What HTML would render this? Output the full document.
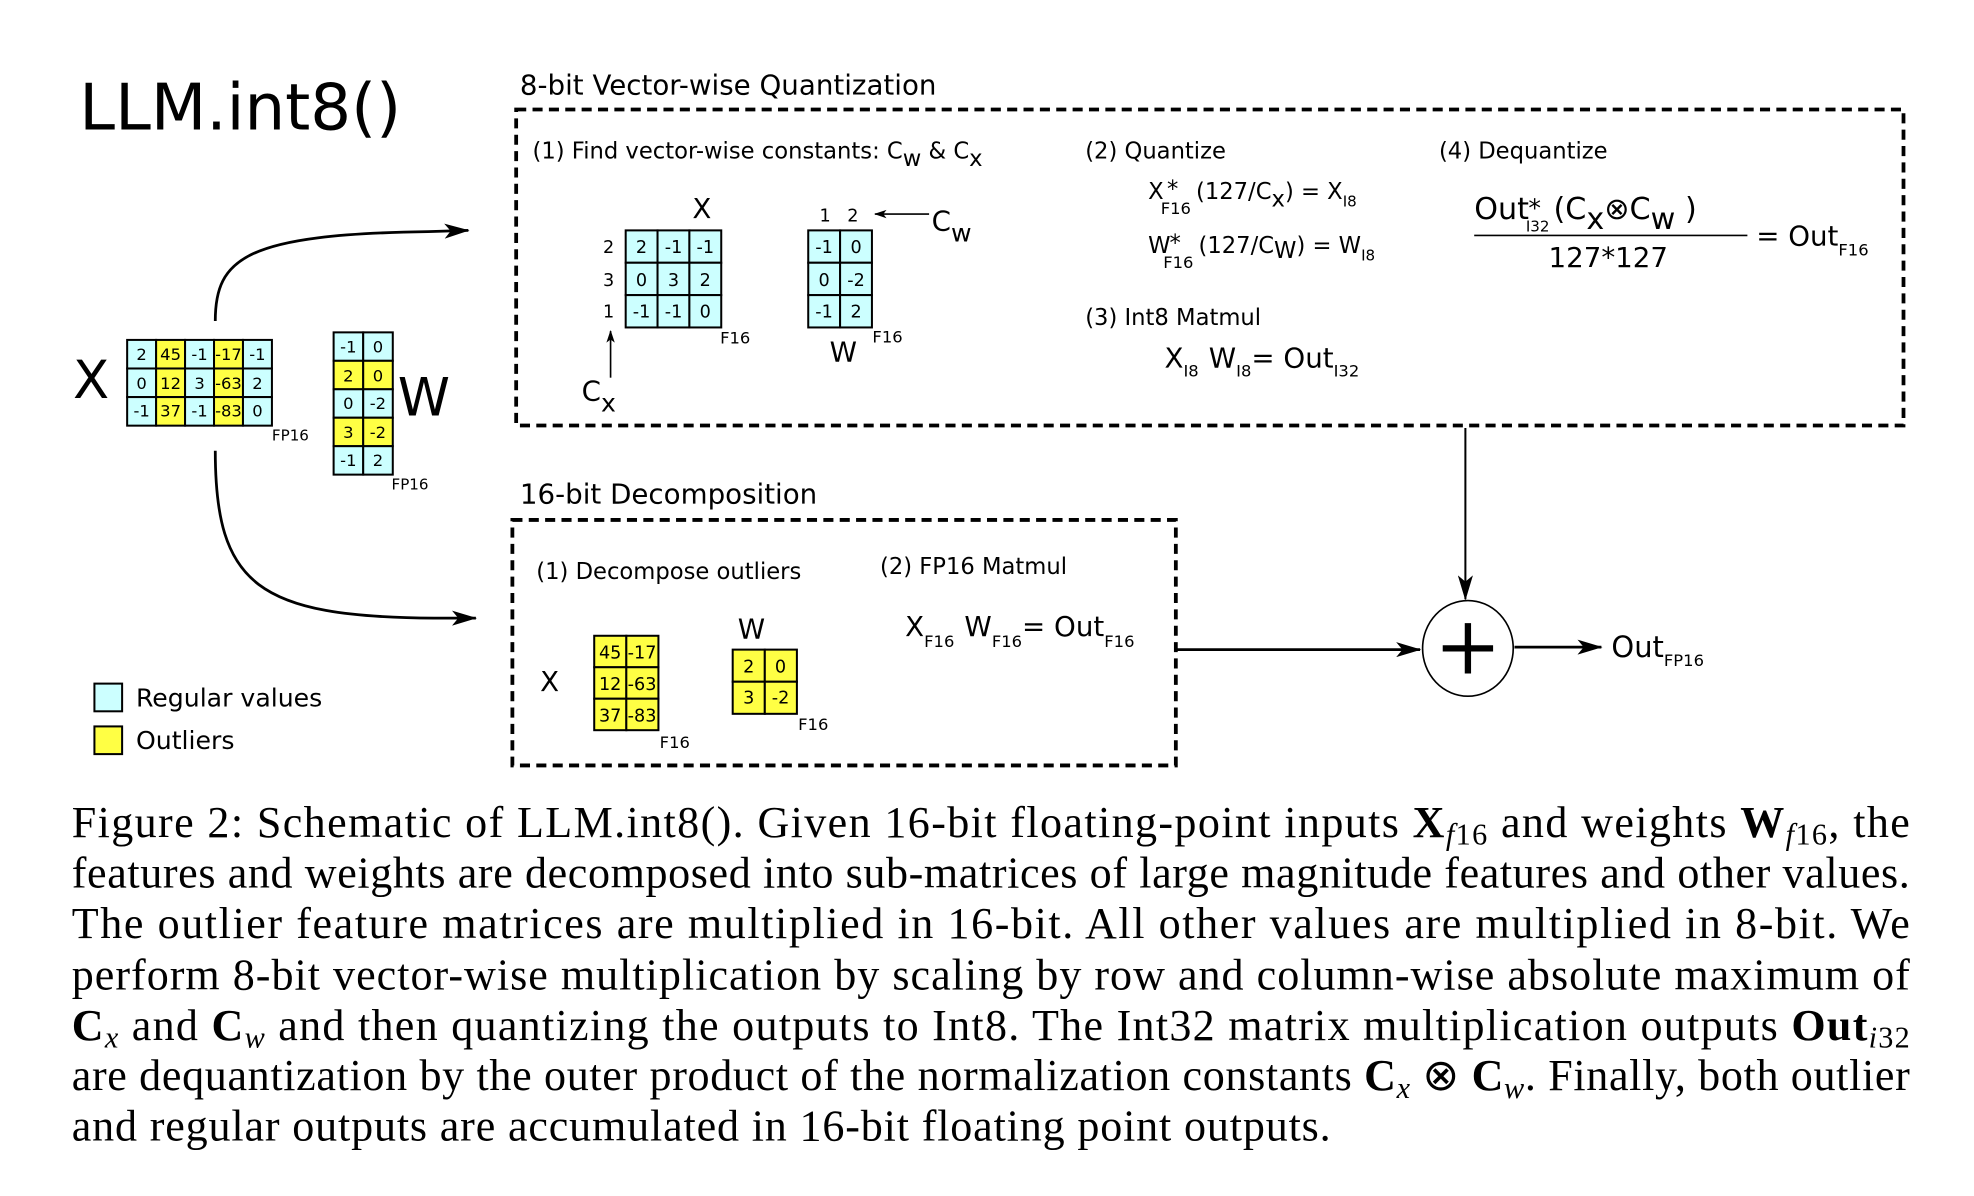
<!DOCTYPE html>
<html><head><meta charset="utf-8"><style>
html,body{margin:0;padding:0;background:#fff;}
svg{display:block}
.s{font-family:"DejaVu Sans",sans-serif;fill:#000}
.c{font-family:"Liberation Serif",serif;fill:#000;font-size:35px}
.cy{fill:#ccffff;stroke:#000;stroke-width:1.6}
.ye{fill:#ffff44;stroke:#000;stroke-width:1.6}
.m{font-family:"DejaVu Sans",sans-serif;font-size:13px;text-anchor:middle}
.m2{font-family:"DejaVu Sans",sans-serif;font-size:14px;text-anchor:middle}
</style></head><body>
<svg width="1974" height="1196" viewBox="0 0 1568 950" preserveAspectRatio="none" xmlns="http://www.w3.org/2000/svg">
<defs>
<marker id="ah" viewBox="0 0 20 12" refX="19" refY="6" markerWidth="20" markerHeight="12" markerUnits="userSpaceOnUse" orient="auto">
<path d="M0,0 L20,6 L0,12 L5,6 Z" fill="#000"/></marker>
<marker id="ahs" viewBox="0 0 12 8" refX="11" refY="4" markerWidth="10" markerHeight="7" markerUnits="userSpaceOnUse" orient="auto">
<path d="M0,0 L12,4 L0,8 L3,4 Z" fill="#000"/></marker>
</defs>

<text class="s" x="63" y="103" font-size="51">LLM.int8()</text>

<!-- big X matrix -->
<text class="s" x="58" y="316" font-size="42">X</text>
<g>
<rect class="cy" x="101" y="270" width="23" height="22.7"/><rect class="ye" x="124" y="270" width="23" height="22.7"/><rect class="cy" x="147" y="270" width="23" height="22.7"/><rect class="ye" x="170" y="270" width="23" height="22.7"/><rect class="cy" x="193" y="270" width="23" height="22.7"/>
<rect class="cy" x="101" y="292.7" width="23" height="22.7"/><rect class="ye" x="124" y="292.7" width="23" height="22.7"/><rect class="cy" x="147" y="292.7" width="23" height="22.7"/><rect class="ye" x="170" y="292.7" width="23" height="22.7"/><rect class="cy" x="193" y="292.7" width="23" height="22.7"/>
<rect class="cy" x="101" y="315.4" width="23" height="22.7"/><rect class="ye" x="124" y="315.4" width="23" height="22.7"/><rect class="cy" x="147" y="315.4" width="23" height="22.7"/><rect class="ye" x="170" y="315.4" width="23" height="22.7"/><rect class="cy" x="193" y="315.4" width="23" height="22.7"/>
<text class="m" x="112.5" y="286">2</text><text class="m" x="135.5" y="286">45</text><text class="m" x="158.5" y="286">-1</text><text class="m" x="181.5" y="286">-17</text><text class="m" x="204.5" y="286">-1</text>
<text class="m" x="112.5" y="309">0</text><text class="m" x="135.5" y="309">12</text><text class="m" x="158.5" y="309">3</text><text class="m" x="181.5" y="309">-63</text><text class="m" x="204.5" y="309">2</text>
<text class="m" x="112.5" y="331">-1</text><text class="m" x="135.5" y="331">37</text><text class="m" x="158.5" y="331">-1</text><text class="m" x="181.5" y="331">-83</text><text class="m" x="204.5" y="331">0</text>
</g>
<text class="s" x="216" y="350" font-size="12">FP16</text>

<!-- big W matrix -->
<g>
<rect class="cy" x="265" y="264" width="23.5" height="22.6"/><rect class="cy" x="288.5" y="264" width="23.5" height="22.6"/>
<rect class="ye" x="265" y="286.6" width="23.5" height="22.6"/><rect class="ye" x="288.5" y="286.6" width="23.5" height="22.6"/>
<rect class="cy" x="265" y="309.2" width="23.5" height="22.6"/><rect class="cy" x="288.5" y="309.2" width="23.5" height="22.6"/>
<rect class="ye" x="265" y="331.8" width="23.5" height="22.6"/><rect class="ye" x="288.5" y="331.8" width="23.5" height="22.6"/>
<rect class="cy" x="265" y="354.4" width="23.5" height="22.6"/><rect class="cy" x="288.5" y="354.4" width="23.5" height="22.6"/>
<text class="m" x="276.7" y="280">-1</text><text class="m" x="300.2" y="280">0</text>
<text class="m" x="276.7" y="303">2</text><text class="m" x="300.2" y="303">0</text>
<text class="m" x="276.7" y="325">0</text><text class="m" x="300.2" y="325">-2</text>
<text class="m" x="276.7" y="348">3</text><text class="m" x="300.2" y="348">-2</text>
<text class="m" x="276.7" y="370">-1</text><text class="m" x="300.2" y="370">2</text>
</g>
<text class="s" x="316" y="330" font-size="42">W</text>
<text class="s" x="311" y="389" font-size="12">FP16</text>

<!-- curves -->
<path d="M171,255 C171,205 195,186 340,184 L372,183" fill="none" stroke="#000" stroke-width="2.2" marker-end="url(#ah)"/>
<path d="M171,358 C171,465 205,490 345,491 L378,491" fill="none" stroke="#000" stroke-width="2.2" marker-end="url(#ah)"/>

<!-- legend -->
<rect class="cy" x="75" y="543" width="22" height="22"/>
<text class="s" x="108" y="561" font-size="20">Regular values</text>
<rect class="ye" x="75" y="577" width="22" height="22"/>
<text class="s" x="108" y="595" font-size="20">Outliers</text>

<!-- Box 1 -->
<text class="s" x="413" y="75" font-size="22">8-bit Vector-wise Quantization</text>
<rect x="410" y="87" width="1102" height="251" fill="none" stroke="#000" stroke-width="3" stroke-dasharray="8,5"/>
<text class="s" x="423" y="126" font-size="18">(1) Find vector-wise constants: C<tspan dy="6" font-size="18">w</tspan><tspan dy="-6"> &amp; C</tspan><tspan dy="6">x</tspan></text>

<text class="s" x="550" y="173" font-size="22">X</text>
<text class="s" x="479" y="201" font-size="14">2</text><text class="s" x="479" y="227" font-size="14">3</text><text class="s" x="479" y="252" font-size="14">1</text>
<g>
<rect class="cy" x="497" y="183" width="25.3" height="25.7"/><rect class="cy" x="522.3" y="183" width="25.3" height="25.7"/><rect class="cy" x="547.6" y="183" width="25.3" height="25.7"/>
<rect class="cy" x="497" y="208.7" width="25.3" height="25.7"/><rect class="cy" x="522.3" y="208.7" width="25.3" height="25.7"/><rect class="cy" x="547.6" y="208.7" width="25.3" height="25.7"/>
<rect class="cy" x="497" y="234.4" width="25.3" height="25.7"/><rect class="cy" x="522.3" y="234.4" width="25.3" height="25.7"/><rect class="cy" x="547.6" y="234.4" width="25.3" height="25.7"/>
<text class="m2" x="509.6" y="201">2</text><text class="m2" x="535" y="201">-1</text><text class="m2" x="560.2" y="201">-1</text>
<text class="m2" x="509.6" y="227">0</text><text class="m2" x="535" y="227">3</text><text class="m2" x="560.2" y="227">2</text>
<text class="m2" x="509.6" y="252">-1</text><text class="m2" x="535" y="252">-1</text><text class="m2" x="560.2" y="252">0</text>
</g>
<text class="s" x="572" y="273" font-size="13">F16</text>
<line x1="485" y1="300" x2="485" y2="263" stroke="#000" stroke-width="1.3" marker-end="url(#ahs)"/>
<text class="s" x="462" y="318" font-size="22">C<tspan dy="9" font-size="20">x</tspan></text>

<text class="s" x="651" y="176" font-size="14">1</text><text class="s" x="673" y="176" font-size="14">2</text>
<line x1="738" y1="170" x2="695" y2="170" stroke="#000" stroke-width="1.3" marker-end="url(#ahs)"/>
<text class="s" x="740" y="183" font-size="22">C<tspan dy="9" font-size="20">w</tspan></text>
<g>
<rect class="cy" x="642" y="183" width="25.3" height="25.7"/><rect class="cy" x="667.3" y="183" width="25.3" height="25.7"/>
<rect class="cy" x="642" y="208.7" width="25.3" height="25.7"/><rect class="cy" x="667.3" y="208.7" width="25.3" height="25.7"/>
<rect class="cy" x="642" y="234.4" width="25.3" height="25.7"/><rect class="cy" x="667.3" y="234.4" width="25.3" height="25.7"/>
<text class="m2" x="654.6" y="201">-1</text><text class="m2" x="680" y="201">0</text>
<text class="m2" x="654.6" y="227">0</text><text class="m2" x="680" y="227">-2</text>
<text class="m2" x="654.6" y="252">-1</text><text class="m2" x="680" y="252">2</text>
</g>
<text class="s" x="659" y="287" font-size="22">W</text>
<text class="s" x="693" y="272" font-size="13">F16</text>

<text class="s" x="862" y="126" font-size="18">(2) Quantize</text>
<text class="s" x="912" y="158" font-size="18">X</text>
<text class="s" x="927" y="156" font-size="18">*</text>
<text class="s" x="922" y="170" font-size="13">F16</text>
<text class="s" x="950" y="158" font-size="18">(127/C<tspan dy="6">x</tspan><tspan dy="-6">) = X</tspan><tspan dy="6" font-size="12">I8</tspan></text>
<text class="s" x="912" y="201" font-size="18">W</text>
<text class="s" x="929" y="199" font-size="18">*</text>
<text class="s" x="924" y="213" font-size="13">F16</text>
<text class="s" x="952" y="201" font-size="18">(127/C<tspan dy="4">W</tspan><tspan dy="-4">) = W</tspan><tspan dy="6" font-size="12">I8</tspan></text>

<text class="s" x="862" y="258" font-size="18">(3) Int8 Matmul</text>
<text class="s" x="925" y="292" font-size="22">X<tspan dy="7" font-size="13">I8</tspan><tspan dx="8" dy="-7">W</tspan><tspan dy="7" font-size="13">I8</tspan><tspan dy="-7">= Out</tspan><tspan dy="7" font-size="13">I32</tspan></text>

<text class="s" x="1143" y="126" font-size="18">(4) Dequantize</text>
<text class="s" x="1171" y="174" font-size="24">Out</text>
<text class="s" x="1214" y="172" font-size="20">*</text>
<text class="s" x="1212" y="184" font-size="12">I32</text>
<text class="s" x="1234" y="174" font-size="24">(C<tspan dy="8">x</tspan><tspan dy="-8">⊗C</tspan><tspan dy="8">w</tspan><tspan dy="-8"> )</tspan></text>
<line x1="1171" y1="187" x2="1388" y2="187" stroke="#000" stroke-width="1.3"/>
<text class="s" x="1230" y="212" font-size="22">127*127</text>
<text class="s" x="1395" y="195" font-size="22">= Out<tspan dy="8" font-size="13">F16</tspan></text>

<!-- arrow down to plus -->
<line x1="1164" y1="340" x2="1164" y2="476" stroke="#000" stroke-width="1.6" marker-end="url(#ah)"/>
<ellipse cx="1166" cy="515" rx="36" ry="38" fill="#fff" stroke="#000" stroke-width="1.3"/>
<line x1="1146" y1="515" x2="1186" y2="515" stroke="#000" stroke-width="5"/>
<line x1="1166" y1="495" x2="1166" y2="535" stroke="#000" stroke-width="5"/>
<line x1="1203" y1="514" x2="1272" y2="514" stroke="#000" stroke-width="2.2" marker-end="url(#ah)"/>
<text class="s" x="1280" y="522" font-size="23">Out<tspan dy="7" font-size="13">FP16</tspan></text>

<!-- Box 2 -->
<text class="s" x="413" y="400" font-size="22">16-bit Decomposition</text>
<rect x="407" y="413" width="527" height="195" fill="none" stroke="#000" stroke-width="3" stroke-dasharray="8,5"/>
<text class="s" x="426" y="460" font-size="18">(1) Decompose outliers</text>
<text class="s" x="699" y="456" font-size="18">(2) FP16 Matmul</text>
<text class="s" x="429" y="549" font-size="22">X</text>
<g>
<rect class="ye" x="472" y="505" width="25.5" height="25"/><rect class="ye" x="497.5" y="505" width="25.5" height="25"/>
<rect class="ye" x="472" y="530" width="25.5" height="25"/><rect class="ye" x="497.5" y="530" width="25.5" height="25"/>
<rect class="ye" x="472" y="555" width="25.5" height="25"/><rect class="ye" x="497.5" y="555" width="25.5" height="25"/>
<text class="m2" x="484.7" y="523">45</text><text class="m2" x="510" y="523">-17</text>
<text class="m2" x="484.7" y="548">12</text><text class="m2" x="510" y="548">-63</text>
<text class="m2" x="484.7" y="573">37</text><text class="m2" x="510" y="573">-83</text>
</g>
<text class="s" x="524" y="594" font-size="13">F16</text>
<text class="s" x="586" y="507" font-size="22">W</text>
<g>
<rect class="ye" x="582" y="516" width="25.5" height="25.5"/><rect class="ye" x="607.5" y="516" width="25.5" height="25.5"/>
<rect class="ye" x="582" y="541.5" width="25.5" height="25.5"/><rect class="ye" x="607.5" y="541.5" width="25.5" height="25.5"/>
<text class="m2" x="594.7" y="534">2</text><text class="m2" x="620" y="534">0</text>
<text class="m2" x="594.7" y="559">3</text><text class="m2" x="620" y="559">-2</text>
</g>
<text class="s" x="634" y="580" font-size="13">F16</text>
<text class="s" x="719" y="505" font-size="22">X<tspan dy="9" font-size="13">F16</tspan><tspan dx="8" dy="-9">W</tspan><tspan dy="9" font-size="13">F16</tspan><tspan dy="-9">= Out</tspan><tspan dy="9" font-size="13">F16</tspan></text>
<line x1="934" y1="516" x2="1128" y2="516" stroke="#000" stroke-width="2.2" marker-end="url(#ah)"/>

<!-- caption -->
<text class="c" x="57" y="665" textLength="1460" lengthAdjust="spacing">Figure 2: Schematic of LLM.int8(). Given 16-bit floating-point inputs <tspan font-weight="bold">X</tspan><tspan font-size="24" dy="6" font-style="italic">f</tspan><tspan font-size="24">16</tspan><tspan dy="-6"> and weights </tspan><tspan font-weight="bold">W</tspan><tspan font-size="24" dy="6" font-style="italic">f</tspan><tspan font-size="24">16</tspan><tspan dy="-6">, the</tspan></text>
<text class="c" x="57" y="705" textLength="1460" lengthAdjust="spacing">features and weights are decomposed into sub-matrices of large magnitude features and other values.</text>
<text class="c" x="57" y="745" textLength="1460" lengthAdjust="spacing">The outlier feature matrices are multiplied in 16-bit.  All other values are multiplied in 8-bit.  We</text>
<text class="c" x="57" y="786" textLength="1460" lengthAdjust="spacing">perform 8-bit vector-wise multiplication by scaling by row and column-wise absolute maximum of</text>
<text class="c" x="57" y="826" textLength="1460" lengthAdjust="spacing"><tspan font-weight="bold">C</tspan><tspan font-size="24" dy="6" font-style="italic">x</tspan><tspan dy="-6"> and </tspan><tspan font-weight="bold">C</tspan><tspan font-size="24" dy="6" font-style="italic">w</tspan><tspan dy="-6"> and then quantizing the outputs to Int8. The Int32 matrix multiplication outputs </tspan><tspan font-weight="bold">Out</tspan><tspan font-size="24" dy="6" font-style="italic">i</tspan><tspan font-size="24">32</tspan></text>
<text class="c" x="57" y="866" textLength="1460" lengthAdjust="spacing">are dequantization by the outer product of the normalization constants <tspan font-weight="bold">C</tspan><tspan font-size="24" dy="6" font-style="italic">x</tspan><tspan dy="-6"> ⊗ </tspan><tspan font-weight="bold">C</tspan><tspan font-size="24" dy="6" font-style="italic">w</tspan><tspan dy="-6">. Finally, both outlier</tspan></text>
<text class="c" x="57" y="906" textLength="1000" lengthAdjust="spacing">and regular outputs are accumulated in 16-bit floating point outputs.</text>
</svg>
</body></html>
